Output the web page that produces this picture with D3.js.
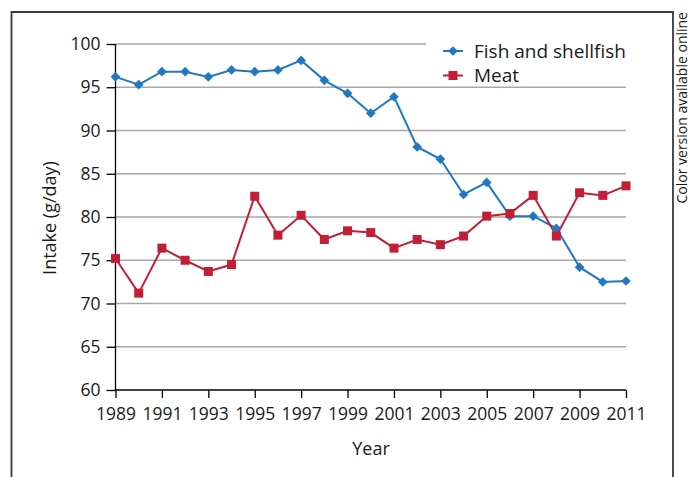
<!DOCTYPE html>
<html>
<head>
<meta charset="utf-8">
<script src="https://cdn.jsdelivr.net/npm/d3@7"></script>
<style>
  body { margin: 0; background: #fff; }
  text { font-family: "Open Sans", "Noto Sans", sans-serif; fill: #1a1a1a; }
</style>
</head>
<body>
<svg id="chart" width="691" height="477"></svg>
<script>
// intake chart, fish vs meat

var years = d3.range(1989, 2012);
var fish = [96.2, 95.3, 96.8, 96.8, 96.2, 97.0, 96.8, 97.0, 98.1, 95.8, 94.3, 92.0,
            93.9, 88.1, 86.7, 82.6, 84.0, 80.1, 80.1, 78.7, 74.2, 72.5, 72.6];
var meat = [75.2, 71.2, 76.4, 75.0, 73.7, 74.5, 82.4, 77.9, 80.2, 77.4, 78.4, 78.2,
            76.4, 77.4, 76.8, 77.8, 80.1, 80.4, 82.5, 77.8, 82.8, 82.5, 83.6];
var yTicks = [60, 65, 70, 75, 80, 85, 90, 95, 100];
var xTicks = d3.range(1989, 2012, 2);
var seriesNames = ["Fish and shellfish", "Meat"];

var blue = "#1f78c1", red = "#c21f36";

var svg = d3.select("#chart");

var x = d3.scaleLinear().domain([1989, 2011]).range([115.5, 626]);
var y = d3.scaleLinear().domain([60, 100]).range([390, 44]);

// outer frame (open at the bottom)
svg.append("path")
  .attr("d", "M11.5,480V12H673V480")
  .attr("fill", "none")
  .attr("stroke", "#3a3a3a")
  .attr("stroke-width", 1.8);

// gridlines
svg.append("g")
  .selectAll("line")
  .data(yTicks.slice(1))
  .enter().append("line")
  .attr("x1", x(1989)).attr("x2", x(2011))
  .attr("y1", function(d) { return y(d); })
  .attr("y2", function(d) { return y(d); })
  .attr("stroke", "#a8a8a8")
  .attr("stroke-width", 1.5);

// axes
var xAxis = d3.axisBottom(x).tickValues(xTicks).tickFormat(d3.format("d")).tickSize(8).tickPadding(10);
var yAxis = d3.axisLeft(y).tickValues(yTicks).tickSize(9).tickPadding(6);

var gx = svg.append("g").attr("transform", "translate(0,390)").call(xAxis);
var gy = svg.append("g").attr("transform", "translate(115.5,0)").call(yAxis);

[gx, gy].forEach(function(g) {
  g.select(".domain").attr("stroke", "#000").attr("stroke-width", 1.3);
  g.selectAll(".tick line").attr("stroke", "#000").attr("stroke-width", 1.3);
  g.selectAll(".tick text").style("font-size", "17.5px").attr("fill", "#1a1a1a")
    .style("font-family", "'Open Sans', sans-serif");
});
gx.select(".domain").attr("d", "M" + x(1989) + ",0H" + x(2011));
gy.select(".domain").attr("d", "M0," + y(100) + "V" + y(60));

// axis titles
svg.append("text")
  .attr("x", 371).attr("y", 455)
  .attr("text-anchor", "middle")
  .style("font-size", "18px")
  .text("Year");

svg.append("text")
  .attr("transform", "translate(56,218) rotate(-90)")
  .attr("text-anchor", "middle")
  .style("font-size", "18px")
  .text("Intake (g/day)");

svg.append("text")
  .attr("transform", "translate(686.5,12) rotate(-90)")
  .attr("text-anchor", "end")
  .style("font-size", "14px")
  .text("Color version available online");

// legend background hides the top gridline
svg.append("rect")
  .attr("x", 426).attr("y", 32).attr("width", 205).attr("height", 50)
  .attr("fill", "#fff");

var line = d3.line()
  .x(function(d, i) { return x(years[i]); })
  .y(function(d) { return y(d); });

var diamond = d3.symbol().type(d3.symbolDiamond2).size(60);

svg.append("path")
  .datum(fish)
  .attr("d", line)
  .attr("fill", "none")
  .attr("stroke", blue)
  .attr("stroke-width", 2);

svg.append("path")
  .datum(meat)
  .attr("d", line)
  .attr("fill", "none")
  .attr("stroke", red)
  .attr("stroke-width", 2);

svg.append("g").selectAll("path")
  .data(fish)
  .enter().append("path")
  .attr("d", diamond)
  .attr("transform", function(d, i) { return "translate(" + x(years[i]) + "," + y(d) + ")"; })
  .attr("fill", blue);

svg.append("g").selectAll("rect")
  .data(meat)
  .enter().append("rect")
  .attr("x", function(d, i) { return x(years[i]) - 4.5; })
  .attr("y", function(d) { return y(d) - 4.5; })
  .attr("width", 9).attr("height", 9)
  .attr("fill", red);

// legend
var legend = svg.append("g").attr("transform", "translate(443,51)");
seriesNames.forEach(function(name, i) {
  var g = legend.append("g").attr("transform", "translate(0," + i * 24.5 + ")");
  var c = i == 0 ? blue : red;
  g.append("line").attr("x1", 0).attr("x2", 20).attr("stroke", c).attr("stroke-width", 2);
  if (i == 0) {
    g.append("path").attr("d", diamond).attr("transform", "translate(10,0)").attr("fill", c);
  } else {
    g.append("rect").attr("x", 5.5).attr("y", -4.5).attr("width", 9).attr("height", 9).attr("fill", c);
  }
  g.append("text").attr("x", 31).attr("y", 6.5).style("font-size", "19px").text(name);
});
</script>
</body>
</html>
